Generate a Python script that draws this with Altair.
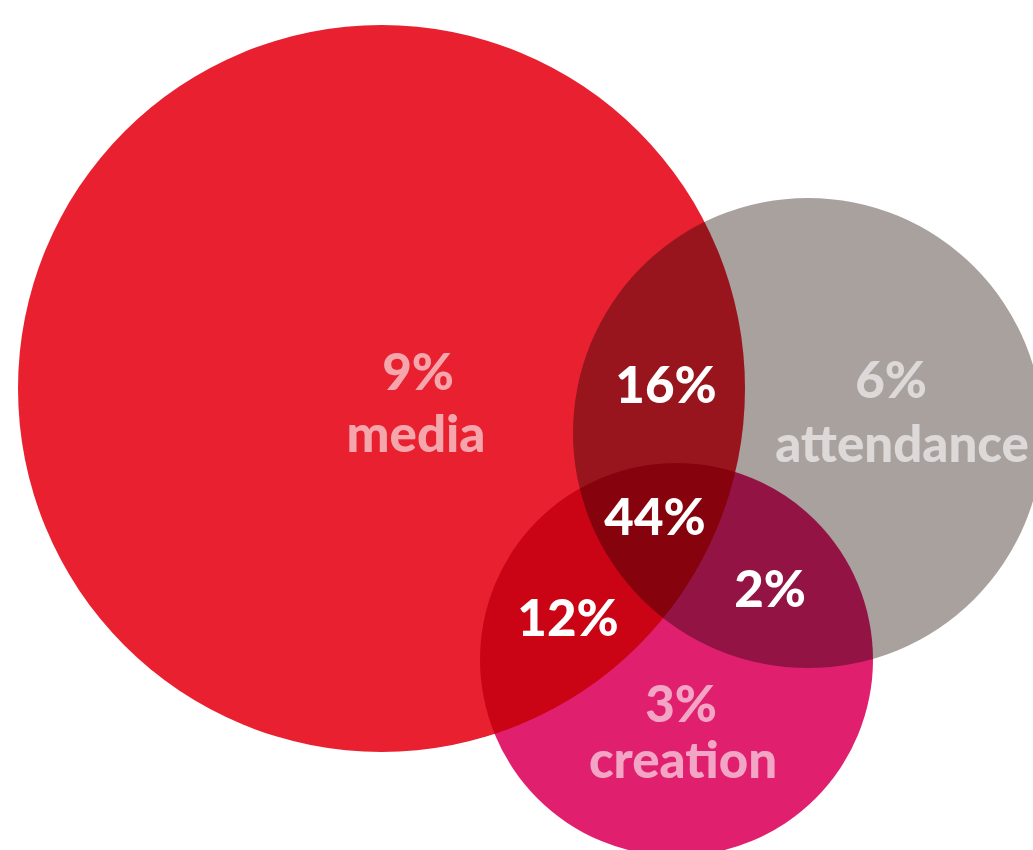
import altair as alt
import pandas as pd

# Circles (pixel-space coordinates of the canvas, y downward)
circle_names = ["media", "attendance", "creation"]
circle_cx = [381.5, 808, 676.5]
circle_cy = [388.5, 433, 659.5]
circle_r = [363.5, 235, 196.5]
circle_colors = ["#E8202F", "#A8A19E", "#E01F6E"]

# Labels
label_texts = ["9%", "media", "6%", "attendance", "3%", "creation", "16%", "44%", "12%", "2%"]
label_x = [418, 416, 891, 902, 681, 683, 666, 655, 568, 770]
label_y = [390, 452, 398, 462, 722, 778, 403, 535, 636, 607]
label_opacity = [0.6, 0.6, 0.6, 0.6, 0.6, 0.6, 1, 1, 1, 1]

W, H = 1033, 850

circles = pd.DataFrame({
    "name": circle_names,
    "cx": circle_cx,
    "cy": circle_cy,
    "size": [(2 * r) ** 2 for r in circle_r],
})
labels = pd.DataFrame({
    "text": label_texts,
    "x": label_x,
    "y": label_y,
    "op": label_opacity,
})

xs = alt.Scale(domain=[0, W], range=[0, W])
ys = alt.Scale(domain=[0, H], range=[0, H])

circ = alt.Chart(circles).mark_circle(opacity=1, blend="multiply").encode(
    x=alt.X("cx:Q", scale=xs, axis=None),
    y=alt.Y("cy:Q", scale=ys, axis=None),
    size=alt.Size("size:Q", scale=None),
    color=alt.Color("name:N", scale=alt.Scale(domain=circle_names, range=circle_colors), legend=None),
)

txt = alt.Chart(labels).mark_text(
    font="Lato", fontWeight=900, fontSize=51, align="center", baseline="alphabetic", color="white"
).encode(
    x=alt.X("x:Q", scale=xs, axis=None),
    y=alt.Y("y:Q", scale=ys, axis=None),
    text="text:N",
    opacity=alt.Opacity("op:Q", scale=None),
)

chart = alt.layer(circ, txt).properties(
    width=W, height=H, padding=0, autosize=alt.AutoSizeParams(type="none"), background="white"
).configure_view(stroke=None, clip=True)

chart.save("out.html", embed_options={"renderer": "svg", "actions": False})
